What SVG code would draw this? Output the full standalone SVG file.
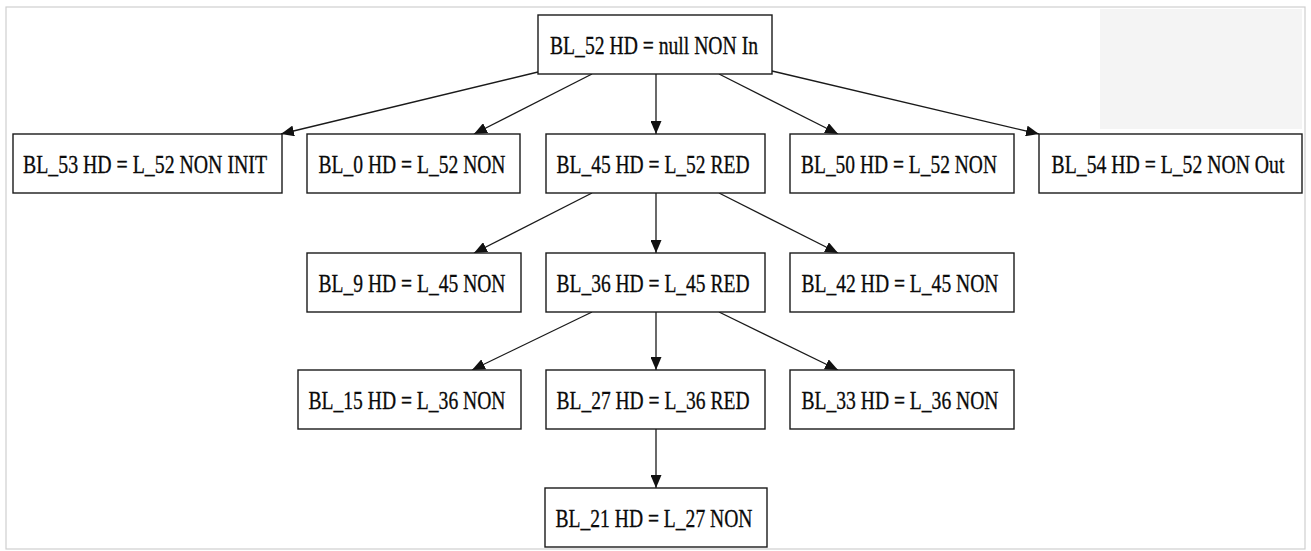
<svg xmlns="http://www.w3.org/2000/svg" width="1311" height="551" viewBox="0 0 1311 551">
<style>
.box{fill:#fff;stroke:#1a1a1a;stroke-width:1.4}
.lbl{font-family:"Liberation Serif","Times New Roman",serif;font-size:25px;fill:#0a0a0a;stroke:#0a0a0a;stroke-width:0.3;text-anchor:middle}
.edge{stroke:#1a1a1a;stroke-width:1.3;fill:none;marker-end:url(#arr)}
</style>
<defs>
<marker id="arr" markerUnits="userSpaceOnUse" markerWidth="13" markerHeight="11" refX="13" refY="5.5" orient="auto">
<path d="M0,0 L13,5.5 L0,11 z" fill="#111"/>
</marker>
</defs>
<rect x="0" y="0" width="1311" height="551" fill="#fff"/>
<rect x="1100" y="9" width="202" height="120" fill="#f4f4f4"/>
<rect x="6" y="7" width="1299" height="542" fill="none" stroke="#cfcfcf" stroke-width="1.2"/>
<g id="edges">
<line class="edge" x1="538" y1="72" x2="281" y2="134"/>
<line class="edge" x1="592" y1="74" x2="474" y2="134"/>
<line class="edge" x1="656" y1="74" x2="656" y2="134"/>
<line class="edge" x1="719" y1="74" x2="838" y2="134"/>
<line class="edge" x1="772" y1="71" x2="1039" y2="134"/>
<line class="edge" x1="592" y1="193" x2="474" y2="253"/>
<line class="edge" x1="656" y1="193" x2="656" y2="253"/>
<line class="edge" x1="719" y1="193" x2="838" y2="253"/>
<line class="edge" x1="592" y1="312" x2="472" y2="370"/>
<line class="edge" x1="656" y1="312" x2="656" y2="370"/>
<line class="edge" x1="719" y1="312" x2="838" y2="370"/>
<line class="edge" x1="656" y1="429" x2="656" y2="488"/>
</g>
<g id="BL_52"><rect class="box" x="538" y="15" width="234" height="59"/><text class="lbl" x="654" y="54" textLength="208" lengthAdjust="spacingAndGlyphs">BL_52 HD = null NON In</text></g>
<g id="BL_53"><rect class="box" x="13" y="134" width="269" height="59"/><text class="lbl" x="145" y="173" textLength="244" lengthAdjust="spacingAndGlyphs">BL_53 HD = L_52 NON INIT</text></g>
<g id="BL_0"><rect class="box" x="307" y="134" width="213" height="59"/><text class="lbl" x="412" y="173" textLength="187" lengthAdjust="spacingAndGlyphs">BL_0 HD = L_52 NON</text></g>
<g id="BL_45"><rect class="box" x="546" y="134" width="219" height="59"/><text class="lbl" x="653" y="173" textLength="193" lengthAdjust="spacingAndGlyphs">BL_45 HD = L_52 RED</text></g>
<g id="BL_50"><rect class="box" x="790" y="134" width="224" height="59"/><text class="lbl" x="899" y="173" textLength="196" lengthAdjust="spacingAndGlyphs">BL_50 HD = L_52 NON</text></g>
<g id="BL_54"><rect class="box" x="1039" y="134" width="263" height="59"/><text class="lbl" transform="translate(1168,173) scale(0.8,1)" x="0" y="0" textLength="291" lengthAdjust="spacingAndGlyphs">BL_54 HD = L_52 NON Out</text></g>
<g id="BL_9"><rect class="box" x="307" y="253" width="214" height="59"/><text class="lbl" x="412" y="292" textLength="187" lengthAdjust="spacingAndGlyphs">BL_9 HD = L_45 NON</text></g>
<g id="BL_36"><rect class="box" x="546" y="253" width="219" height="59"/><text class="lbl" x="653" y="292" textLength="193" lengthAdjust="spacingAndGlyphs">BL_36 HD = L_45 RED</text></g>
<g id="BL_42"><rect class="box" x="790" y="253" width="224" height="59"/><text class="lbl" x="900" y="292" textLength="197" lengthAdjust="spacingAndGlyphs">BL_42 HD = L_45 NON</text></g>
<g id="BL_15"><rect class="box" x="298" y="370" width="223" height="59"/><text class="lbl" x="407" y="409" textLength="197" lengthAdjust="spacingAndGlyphs">BL_15 HD = L_36 NON</text></g>
<g id="BL_27"><rect class="box" x="546" y="370" width="219" height="59"/><text class="lbl" x="653" y="409" textLength="193" lengthAdjust="spacingAndGlyphs">BL_27 HD = L_36 RED</text></g>
<g id="BL_33"><rect class="box" x="790" y="370" width="224" height="59"/><text class="lbl" x="900" y="409" textLength="197" lengthAdjust="spacingAndGlyphs">BL_33 HD = L_36 NON</text></g>
<g id="BL_21"><rect class="box" x="545" y="488" width="222" height="59"/><text class="lbl" x="654" y="527" textLength="197" lengthAdjust="spacingAndGlyphs">BL_21 HD = L_27 NON</text></g>
</svg>
